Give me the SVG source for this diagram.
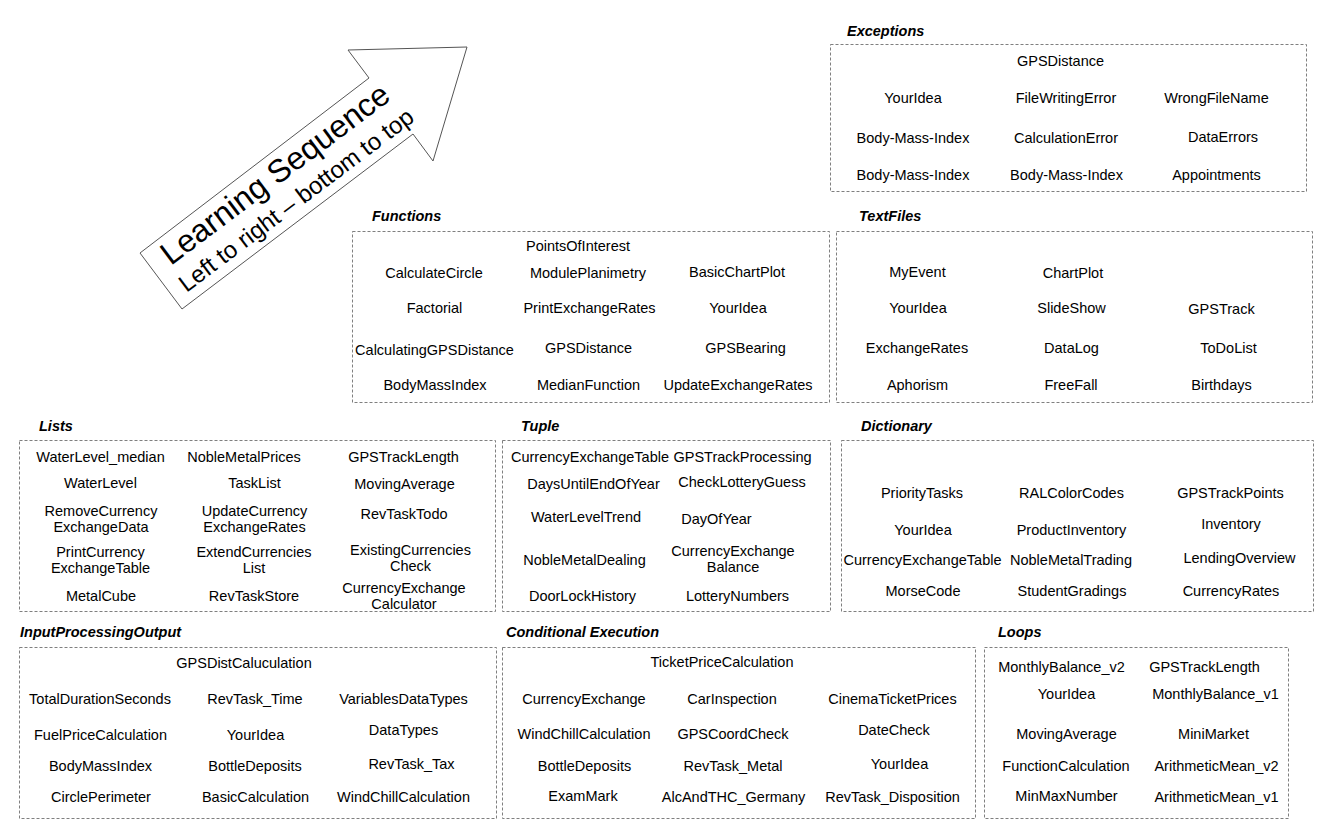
<svg xmlns="http://www.w3.org/2000/svg" width="1329" height="840" viewBox="0 0 1329 840">
<style>
.box{fill:none;stroke:#7f7f7f;stroke-width:1;stroke-dasharray:3,2}
.ttl{font-family:"Liberation Sans",Arial,sans-serif;font-size:14.5px;font-weight:bold;font-style:italic;fill:#000}
.it{font-family:"Liberation Sans",Arial,sans-serif;font-size:14.5px;fill:#000;text-anchor:middle}
.big{font-family:"Liberation Sans",Arial,sans-serif;fill:#000;text-anchor:middle}
</style>
<rect width="1329" height="840" fill="#fff"/>
<g id="arrow">
<polygon points="140,253 369,78 348,50 467,47 433,161 413,134 182,309" fill="#fff" stroke="#555" stroke-width="1"/>
<text class="big" font-size="32" transform="translate(281.5,182.5) rotate(-37)">Learning Sequence</text>
<text class="big" font-size="24" transform="translate(301,206.6) rotate(-37)">Left to right – bottom to top</text>
</g>
<g id="exceptions">
<text class="ttl" x="847" y="36">Exceptions</text>
<rect class="box" x="830.5" y="44.5" width="476" height="147"/>
<text class="it" x="1060.5" y="66">GPSDistance</text>
<text class="it" x="913" y="103">YourIdea</text>
<text class="it" x="1066" y="103">FileWritingError</text>
<text class="it" x="1216.5" y="103">WrongFileName</text>
<text class="it" x="913" y="143">Body-Mass-Index</text>
<text class="it" x="1066" y="143">CalculationError</text>
<text class="it" x="1223" y="142">DataErrors</text>
<text class="it" x="913" y="180">Body-Mass-Index</text>
<text class="it" x="1066.5" y="180">Body-Mass-Index</text>
<text class="it" x="1216.5" y="180">Appointments</text>
</g>
<g id="functions">
<text class="ttl" x="372" y="221">Functions</text>
<rect class="box" x="352.5" y="231.5" width="477" height="171"/>
<text class="it" x="578" y="251">PointsOfInterest</text>
<text class="it" x="434" y="277.5">CalculateCircle</text>
<text class="it" x="588" y="277.5">ModulePlanimetry</text>
<text class="it" x="737" y="277">BasicChartPlot</text>
<text class="it" x="434.5" y="313">Factorial</text>
<text class="it" x="589.5" y="313">PrintExchangeRates</text>
<text class="it" x="738" y="313">YourIdea</text>
<text class="it" x="434.5" y="354.5">CalculatingGPSDistance</text>
<text class="it" x="588.5" y="353">GPSDistance</text>
<text class="it" x="745.5" y="353">GPSBearing</text>
<text class="it" x="435" y="389.5">BodyMassIndex</text>
<text class="it" x="588.5" y="389.5">MedianFunction</text>
<text class="it" x="738" y="389.5">UpdateExchangeRates</text>
</g>
<g id="textfiles">
<text class="ttl" x="859" y="221">TextFiles</text>
<rect class="box" x="836.5" y="231.5" width="476" height="171"/>
<text class="it" x="917.5" y="277">MyEvent</text>
<text class="it" x="1073" y="278">ChartPlot</text>
<text class="it" x="918" y="313">YourIdea</text>
<text class="it" x="1071.5" y="313">SlideShow</text>
<text class="it" x="1221.5" y="314">GPSTrack</text>
<text class="it" x="917" y="353">ExchangeRates</text>
<text class="it" x="1071.5" y="353">DataLog</text>
<text class="it" x="1228.5" y="353">ToDoList</text>
<text class="it" x="917.5" y="389.5">Aphorism</text>
<text class="it" x="1071" y="389.5">FreeFall</text>
<text class="it" x="1221.5" y="389.5">Birthdays</text>
</g>
<g id="lists">
<text class="ttl" x="39" y="431">Lists</text>
<rect class="box" x="19.5" y="440.5" width="476" height="171"/>
<text class="it" x="100.5" y="462">WaterLevel_median</text>
<text class="it" x="244" y="462">NobleMetalPrices</text>
<text class="it" x="403.5" y="462">GPSTrackLength</text>
<text class="it" x="100.5" y="488">WaterLevel</text>
<text class="it" x="254.5" y="488">TaskList</text>
<text class="it" x="404.5" y="489">MovingAverage</text>
<text class="it" x="101" y="516">RemoveCurrency</text>
<text class="it" x="101" y="532">ExchangeData</text>
<text class="it" x="254.5" y="516">UpdateCurrency</text>
<text class="it" x="254.5" y="532">ExchangeRates</text>
<text class="it" x="404" y="519">RevTaskTodo</text>
<text class="it" x="100.5" y="557">PrintCurrency</text>
<text class="it" x="100.5" y="572.5">ExchangeTable</text>
<text class="it" x="254" y="557">ExtendCurrencies</text>
<text class="it" x="254" y="572.5">List</text>
<text class="it" x="410.5" y="554.5">ExistingCurrencies</text>
<text class="it" x="410.5" y="570.5">Check</text>
<text class="it" x="101" y="601">MetalCube</text>
<text class="it" x="254" y="601">RevTaskStore</text>
<text class="it" x="404" y="593">CurrencyExchange</text>
<text class="it" x="404" y="608.5">Calculator</text>
</g>
<g id="tuple">
<text class="ttl" x="521" y="431">Tuple</text>
<rect class="box" x="502.5" y="440.5" width="328" height="171"/>
<text class="it" x="590" y="462">CurrencyExchangeTable</text>
<text class="it" x="742.5" y="462">GPSTrackProcessing</text>
<text class="it" x="593.5" y="489">DaysUntilEndOfYear</text>
<text class="it" x="742" y="487">CheckLotteryGuess</text>
<text class="it" x="586" y="522">WaterLevelTrend</text>
<text class="it" x="716.5" y="524">DayOfYear</text>
<text class="it" x="584.5" y="565">NobleMetalDealing</text>
<text class="it" x="733" y="556">CurrencyExchange</text>
<text class="it" x="733" y="571.5">Balance</text>
<text class="it" x="582.5" y="601">DoorLockHistory</text>
<text class="it" x="737.5" y="601">LotteryNumbers</text>
</g>
<g id="dictionary">
<text class="ttl" x="861" y="431">Dictionary</text>
<rect class="box" x="841.5" y="440.5" width="472" height="171"/>
<text class="it" x="922" y="498">PriorityTasks</text>
<text class="it" x="1071.5" y="498">RALColorCodes</text>
<text class="it" x="1230.5" y="498">GPSTrackPoints</text>
<text class="it" x="923" y="534.5">YourIdea</text>
<text class="it" x="1071.5" y="534.5">ProductInventory</text>
<text class="it" x="1231" y="529">Inventory</text>
<text class="it" x="922.5" y="565">CurrencyExchangeTable</text>
<text class="it" x="1071" y="565">NobleMetalTrading</text>
<text class="it" x="1239.5" y="563">LendingOverview</text>
<text class="it" x="923" y="596">MorseCode</text>
<text class="it" x="1072" y="596">StudentGradings</text>
<text class="it" x="1231" y="596">CurrencyRates</text>
</g>
<g id="ipo">
<text class="ttl" x="20" y="637">InputProcessingOutput</text>
<rect class="box" x="19.5" y="647.5" width="477" height="171"/>
<text class="it" x="244" y="668">GPSDistCaluculation</text>
<text class="it" x="100" y="704">TotalDurationSeconds</text>
<text class="it" x="255" y="704">RevTask_Time</text>
<text class="it" x="403.5" y="704">VariablesDataTypes</text>
<text class="it" x="100.5" y="739.5">FuelPriceCalculation</text>
<text class="it" x="255.5" y="739.5">YourIdea</text>
<text class="it" x="403.5" y="734.5">DataTypes</text>
<text class="it" x="100.5" y="771">BodyMassIndex</text>
<text class="it" x="255" y="771">BottleDeposits</text>
<text class="it" x="411.5" y="769">RevTask_Tax</text>
<text class="it" x="101" y="802">CirclePerimeter</text>
<text class="it" x="255.5" y="802">BasicCalculation</text>
<text class="it" x="403.5" y="802">WindChillCalculation</text>
</g>
<g id="conditional">
<text class="ttl" x="506" y="637">Conditional Execution</text>
<rect class="box" x="502.5" y="647.5" width="473" height="171"/>
<text class="it" x="722" y="667">TicketPriceCalculation</text>
<text class="it" x="584" y="704">CurrencyExchange</text>
<text class="it" x="732" y="704">CarInspection</text>
<text class="it" x="892.5" y="704">CinemaTicketPrices</text>
<text class="it" x="584" y="738.5">WindChillCalculation</text>
<text class="it" x="733" y="738.5">GPSCoordCheck</text>
<text class="it" x="894" y="734.5">DateCheck</text>
<text class="it" x="584.5" y="771">BottleDeposits</text>
<text class="it" x="733" y="771">RevTask_Metal</text>
<text class="it" x="899.5" y="769">YourIdea</text>
<text class="it" x="583" y="801">ExamMark</text>
<text class="it" x="733.5" y="802">AlcAndTHC_Germany</text>
<text class="it" x="892.5" y="802">RevTask_Disposition</text>
</g>
<g id="loops">
<text class="ttl" x="998" y="637">Loops</text>
<rect class="box" x="984.5" y="647.5" width="304" height="171"/>
<text class="it" x="1061.5" y="672">MonthlyBalance_v2</text>
<text class="it" x="1204.5" y="672">GPSTrackLength</text>
<text class="it" x="1066.5" y="698.5">YourIdea</text>
<text class="it" x="1215.5" y="698.5">MonthlyBalance_v1</text>
<text class="it" x="1066.5" y="738.5">MovingAverage</text>
<text class="it" x="1213.5" y="738.5">MiniMarket</text>
<text class="it" x="1066" y="771">FunctionCalculation</text>
<text class="it" x="1216.5" y="771">ArithmeticMean_v2</text>
<text class="it" x="1066.5" y="801">MinMaxNumber</text>
<text class="it" x="1216.5" y="802">ArithmeticMean_v1</text>
</g>
</svg>
